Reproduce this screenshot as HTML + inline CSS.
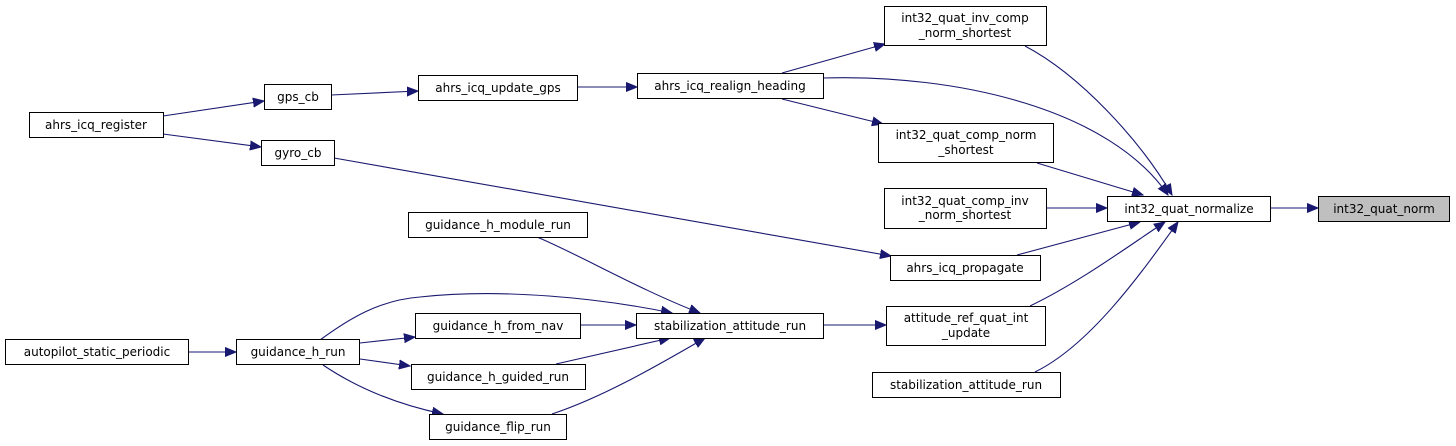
<!DOCTYPE html>
<html><head><meta charset="utf-8"><style>
html,body{margin:0;padding:0;background:#fff;}
svg{display:block;}
text{font-family:"DejaVu Sans","Liberation Sans",sans-serif;font-size:12px;fill:#000;}
</style></head><body>
<svg width="1456" height="446" viewBox="0 0 1456 446" xmlns="http://www.w3.org/2000/svg">
<defs>
<marker id="a" markerUnits="userSpaceOnUse" markerWidth="12" markerHeight="10" refX="11" refY="5" orient="auto">
<path d="M0,0.5 L11,5 L0,9.5 Z" fill="#191970" stroke="#191970"/>
</marker>
</defs>
<g fill="none" stroke="#191970" stroke-width="1.1" marker-end="url(#a)">
<path d="M1270,208 L1318,208"/>
<path d="M1025,46 C1080,75 1140,140 1172,195"/>
<path d="M823,78 C960,74 1110,110 1168,195"/>
<path d="M1037,163 L1143,195"/>
<path d="M1047,208 L1107,208"/>
<path d="M1017,255 L1140,222"/>
<path d="M1030,306 C1080,282 1130,245 1165,222"/>
<path d="M1035,372 C1090,345 1140,275 1178,222"/>
<path d="M782,73 L885,44"/>
<path d="M782,99 L883,124"/>
<path d="M577,87 L637,87"/>
<path d="M331,95 L418,91"/>
<path d="M163,116 L264,101"/>
<path d="M163,134 L261,147"/>
<path d="M334,158 L891,256"/>
<path d="M824,325 L886,325"/>
<path d="M537,237 C580,255 640,290 700,313"/>
<path d="M320,340 C350,318 380,300 420,297 C500,288 600,298 672,313"/>
<path d="M580,325 L636,325"/>
<path d="M556,364 L670,338"/>
<path d="M552,414 C600,398 650,370 705,338"/>
<path d="M188,352 L236,352"/>
<path d="M360,343 L415,337"/>
<path d="M360,359 L410,366"/>
<path d="M323,365 C360,390 400,405 443,414"/>
</g>
<g stroke="#000" stroke-width="1" fill="#fff">
<rect x="1318.5" y="196.5" width="131" height="25" fill="#bfbfbf"/>
<rect x="1107.5" y="196.5" width="163" height="25"/>
<rect x="884.5" y="6.5" width="162" height="39"/>
<rect x="637.5" y="73.5" width="186" height="25"/>
<rect x="878.5" y="123.5" width="175" height="39"/>
<rect x="884.5" y="188.5" width="162" height="40"/>
<rect x="890.5" y="255.5" width="150" height="25"/>
<rect x="886.5" y="306.5" width="159" height="39"/>
<rect x="872.5" y="372.5" width="188" height="25"/>
<rect x="636.5" y="313.5" width="187" height="25"/>
<rect x="418.5" y="75.5" width="159" height="25"/>
<rect x="264.5" y="84.5" width="67" height="25"/>
<rect x="29.5" y="112.5" width="134" height="25"/>
<rect x="261.5" y="140.5" width="73" height="25"/>
<rect x="408.5" y="212.5" width="179" height="25"/>
<rect x="415.5" y="313.5" width="165" height="25"/>
<rect x="5.5" y="339.5" width="183" height="25"/>
<rect x="236.5" y="339.5" width="123" height="25"/>
<rect x="411.5" y="364.5" width="174" height="25"/>
<rect x="429.5" y="414.5" width="137" height="25"/>
</g>
<g text-anchor="middle">
<text x="1384" y="213">int32_quat_norm</text>
<text x="1189" y="213">int32_quat_normalize</text>
<text x="965" y="22">int32_quat_inv_comp</text>
<text x="965" y="37">_norm_shortest</text>
<text x="730" y="90">ahrs_icq_realign_heading</text>
<text x="966" y="139">int32_quat_comp_norm</text>
<text x="966" y="154">_shortest</text>
<text x="965" y="205">int32_quat_comp_inv</text>
<text x="965" y="219">_norm_shortest</text>
<text x="965" y="272">ahrs_icq_propagate</text>
<text x="966" y="322">attitude_ref_quat_int</text>
<text x="966" y="337">_update</text>
<text x="966" y="389">stabilization_attitude_run</text>
<text x="730" y="330">stabilization_attitude_run</text>
<text x="498" y="92">ahrs_icq_update_gps</text>
<text x="298" y="101">gps_cb</text>
<text x="96" y="129">ahrs_icq_register</text>
<text x="298" y="157">gyro_cb</text>
<text x="498" y="229">guidance_h_module_run</text>
<text x="498" y="330">guidance_h_from_nav</text>
<text x="97" y="356">autopilot_static_periodic</text>
<text x="298" y="356">guidance_h_run</text>
<text x="498" y="381">guidance_h_guided_run</text>
<text x="498" y="431">guidance_flip_run</text>
</g>
</svg>
</body></html>
